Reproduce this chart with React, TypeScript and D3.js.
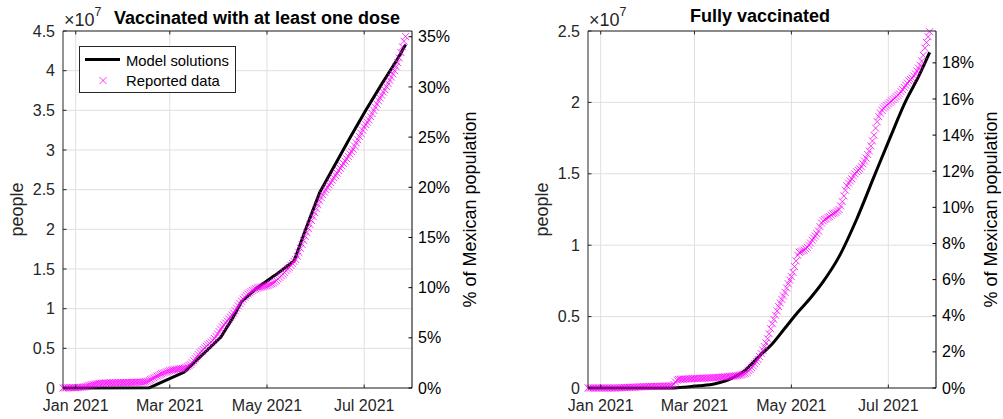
import React from "react";
import * as d3 from "d3";

// Time window shown on both panels (UTC dates)
const START = Date.UTC(2020, 11, 24);
const END = Date.UTC(2021, 6, 31);
const DAY_MS = 86400000;
const POPULATION = 126.5e6;

const dateTicks = ["2021-01-01", "2021-03-01", "2021-05-01", "2021-07-01"];
const dateTickLabels = ["Jan 2021", "Mar 2021", "May 2021", "Jul 2021"];

// Left axis ticks in units of 10^7 people
const oneDoseTicks = [0, 0.5, 1, 1.5, 2, 2.5, 3, 3.5, 4, 4.5];
const oneDosePctTicks = [0, 5, 10, 15, 20, 25, 30, 35];
const fullTicks = [0, 0.5, 1, 1.5, 2, 2.5];
const fullPctTicks = [0, 2, 4, 6, 8, 10, 12, 14, 16, 18];

// Reported daily totals (millions of people), one value per day from 24 Dec 2020
const reportedOneDose = [
  0.003, 0.01, 0.02, 0.025, 0.03, 0.035, 0.04, 0.043, 0.045, 0.048,
  0.06, 0.08, 0.1, 0.13, 0.17, 0.22, 0.28, 0.33, 0.39, 0.44,
  0.48, 0.52, 0.55, 0.57, 0.59, 0.61, 0.62, 0.63, 0.64, 0.645,
  0.65, 0.655, 0.66, 0.665, 0.67, 0.675, 0.68, 0.68, 0.685, 0.69,
  0.69, 0.695, 0.7, 0.705, 0.71, 0.715, 0.72, 0.725, 0.73, 0.735,
  0.74, 0.75, 0.78, 0.86, 0.95, 1.05, 1.16, 1.27, 1.38, 1.5,
  1.6, 1.7, 1.8, 1.88, 1.95, 2.02, 2.1, 2.18, 2.24, 2.28,
  2.31, 2.34, 2.37, 2.4, 2.43, 2.46, 2.5, 2.58, 2.7, 2.85,
  3.0, 3.2, 3.45, 3.7, 3.95, 4.2, 4.45, 4.65, 4.85, 5.05,
  5.25, 5.45, 5.62, 5.8, 6.0, 6.25, 6.5, 6.8, 7.1, 7.4,
  7.7, 7.95, 8.2, 8.45, 8.7, 8.95, 9.2, 9.45, 9.75, 10.05,
  10.35, 10.65, 10.95, 11.2, 11.45, 11.65, 11.85, 12.0, 12.15, 12.3,
  12.4, 12.5, 12.6, 12.65, 12.7, 12.75, 12.8, 12.85, 12.9, 12.95,
  13.05, 13.15, 13.25, 13.4, 13.55, 13.75, 13.95, 14.15, 14.35, 14.55,
  14.8, 15.0, 15.2, 15.45, 15.7, 15.95, 16.2, 16.6, 17.1, 17.6,
  18.1, 18.6, 19.1, 19.6, 20.1, 20.6, 21.1, 21.6, 22.1, 22.6,
  23.1, 23.6, 24.0, 24.35, 24.7, 25.0, 25.3, 25.6, 25.9, 26.2,
  26.5, 26.8, 27.1, 27.4, 27.7, 28.0, 28.3, 28.6, 28.9, 29.2,
  29.5, 29.8, 30.1, 30.5, 30.9, 31.3, 31.7, 32.1, 32.5, 32.9,
  33.2, 33.5, 33.8, 34.2, 34.6, 35.0, 35.4, 35.8, 36.2, 36.55,
  36.9, 37.3, 37.6, 38.0, 38.4, 38.8, 39.2, 39.6, 40.0, 40.5,
  41.0, 41.6, 42.3, 43.0, 43.7, 44.3,
];

const reportedFull = [
  0, 0, 0, 0, 0, 0, 0, 0, 0, 0,
  0, 0, 0, 0, 0, 0, 0, 0, 0.005, 0.01,
  0.015, 0.02, 0.025, 0.03, 0.035, 0.04, 0.045, 0.05, 0.055, 0.06,
  0.065, 0.07, 0.075, 0.08, 0.085, 0.09, 0.095, 0.1, 0.1, 0.105,
  0.105, 0.11, 0.11, 0.115, 0.115, 0.12, 0.12, 0.125, 0.125, 0.13,
  0.13, 0.135, 0.14, 0.15, 0.25, 0.42, 0.55, 0.6, 0.61, 0.62,
  0.62, 0.63, 0.63, 0.64, 0.64, 0.65, 0.65, 0.66, 0.66, 0.67,
  0.67, 0.68, 0.68, 0.69, 0.69, 0.7, 0.7, 0.71, 0.72, 0.72,
  0.73, 0.74, 0.74, 0.75, 0.76, 0.77, 0.78, 0.79, 0.8, 0.81,
  0.82, 0.83, 0.84, 0.85, 0.87, 0.89, 0.91, 0.94, 0.98, 1.03,
  1.1, 1.2, 1.3, 1.42, 1.55, 1.7, 1.85, 2.0, 2.2, 2.42,
  2.65, 2.9, 3.15, 3.45, 3.8, 4.15, 4.5, 4.8, 5.1, 5.4,
  5.7, 5.95, 6.2, 6.45, 6.7, 7.0, 7.3, 7.55, 7.8, 8.1,
  8.5, 8.9, 9.3, 9.5, 9.55, 9.6, 9.65, 9.75, 9.85, 10.0,
  10.15, 10.35, 10.5, 10.65, 10.8, 11.0, 11.3, 11.55, 11.7, 11.8,
  11.85, 11.95, 12.0, 12.1, 12.2, 12.25, 12.3, 12.4, 12.5, 12.75,
  13.05, 13.45, 13.85, 14.15, 14.35, 14.5, 14.65, 14.85, 15.0, 15.15,
  15.25, 15.35, 15.5, 15.7, 15.9, 16.1, 16.35, 16.6, 16.95, 17.3,
  17.7, 18.2, 18.65, 19.0, 19.25, 19.45, 19.6, 19.7, 19.8, 19.9,
  20.0, 20.1, 20.2, 20.3, 20.4, 20.5, 20.6, 20.75, 20.9, 21.05,
  21.2, 21.35, 21.5, 21.6, 21.7, 21.85, 22.0, 22.2, 22.4, 22.6,
  22.9, 23.3, 23.8, 24.2, 24.6, 24.95,
];

// Model solutions: days since 24 Dec 2020 and cumulative people (millions)
const modelOneDoseDay = [0, 54, 76, 99, 107, 112, 121, 133, 145, 153, 161, 170, 180, 190, 200, 210, 215];
const modelOneDose = [0, 0.02, 2.0, 6.4, 9.0, 10.9, 12.5, 14.2, 16.0, 20.4, 24.6, 27.9, 31.5, 35.0, 38.3, 41.5, 43.3];
const modelFullDay = [0, 54, 60, 70, 80, 90, 99, 107, 116, 124, 132, 140, 148, 158, 169, 180, 190, 200, 208, 215];
const modelFull = [0, 0, 0.05, 0.15, 0.3, 0.65, 1.25, 2.15, 3.1, 4.2, 5.3, 6.3, 7.45, 9.2, 11.8, 14.8, 17.5, 20.1, 21.8, 23.5];

const FONT = "'Liberation Sans', Arial, Helvetica, sans-serif";
const AXIS = "#262626";
const GRID = "#dfdfdf";
const MAGENTA = "#ff00ff";
const TICK = 3.5;
const MARK_R = 3.5;

type PanelProps = {
  left: number;
  right: number;
  top: number;
  bottom: number;
  yTicks: number[];
  pctTicks: number[];
  title: string;
  titleX: number;
  titleY: number;
  reported: number[];
  modelDay: number[];
  model: number[];
  smooth: boolean;
  peopleX: number;
  pctLabelX: number;
  legend: boolean;
};

function Cross({ cx, cy, r }: { cx: number; cy: number; r: number }) {
  return (
    <path
      d={`M${cx - r},${cy - r}L${cx + r},${cy + r}M${cx - r},${cy + r}L${cx + r},${cy - r}`}
      stroke={MAGENTA}
      strokeWidth={0.8}
      fill="none"
    />
  );
}

function Panel(p: PanelProps) {
  const yMaxM = p.yTicks[p.yTicks.length - 1] * 10; // millions
  const x = d3.scaleUtc().domain([START, END]).range([p.left, p.right]);
  const y = d3.scaleLinear().domain([0, yMaxM]).range([p.bottom, p.top]);
  const yPct = d3
    .scaleLinear()
    .domain([0, (yMaxM * 1e6 * 100) / POPULATION])
    .range([p.bottom, p.top]);

  const line = d3
    .line<number>()
    .x((_, i) => x(START + p.modelDay[i] * DAY_MS))
    .y((v) => y(v))
    .curve(p.smooth ? d3.curveMonotoneX : d3.curveLinear);

  const xt = dateTicks.map((s) => Date.parse(s + "T00:00:00Z"));
  const midY = (p.top + p.bottom) / 2;

  return (
    <g fontFamily={FONT}>
      {/* grid */}
      {xt.map((t, i) => (
        <line key={"gx" + i} x1={x(t)} x2={x(t)} y1={p.top} y2={p.bottom} stroke={GRID} strokeWidth={1} />
      ))}
      {p.yTicks.map((t, i) => (
        <line key={"gy" + i} x1={p.left} x2={p.right} y1={y(t * 10)} y2={y(t * 10)} stroke={GRID} strokeWidth={1} />
      ))}

      {/* model curve */}
      <path d={line(p.model) || ""} fill="none" stroke="#000" strokeWidth={3} strokeLinejoin="round" />

      {/* reported data markers */}
      {p.reported.map((v, i) => (
        <Cross key={"m" + i} cx={x(START + i * DAY_MS)} cy={y(v)} r={MARK_R} />
      ))}

      {/* box and ticks */}
      <line x1={p.left} x2={p.right} y1={p.top} y2={p.top} stroke={AXIS} strokeWidth={1} />
      <line x1={p.left} x2={p.right} y1={p.bottom} y2={p.bottom} stroke={AXIS} strokeWidth={1} />
      <line x1={p.left} x2={p.left} y1={p.top} y2={p.bottom} stroke={AXIS} strokeWidth={1} />
      <line x1={p.right} x2={p.right} y1={p.top} y2={p.bottom} stroke="#000" strokeWidth={1} />

      {xt.map((t, i) => (
        <g key={"xt" + i}>
          <line x1={x(t)} x2={x(t)} y1={p.bottom} y2={p.bottom - TICK} stroke={AXIS} />
          <line x1={x(t)} x2={x(t)} y1={p.top} y2={p.top + TICK} stroke={AXIS} />
          <text x={x(t)} y={p.bottom + 23} fontSize={16} textAnchor="middle" fill={AXIS}>
            {dateTickLabels[i]}
          </text>
        </g>
      ))}

      {p.yTicks.map((t, i) => (
        <g key={"yt" + i}>
          <line x1={p.left} x2={p.left + TICK} y1={y(t * 10)} y2={y(t * 10)} stroke={AXIS} />
          <text x={p.left - 8} y={y(t * 10)} dy="0.35em" fontSize={16} textAnchor="end" fill={AXIS}>
            {String(t)}
          </text>
        </g>
      ))}

      {p.pctTicks.map((t, i) => (
        <g key={"pt" + i}>
          <line x1={p.right} x2={p.right - TICK} y1={yPct(t)} y2={yPct(t)} stroke="#000" />
          <text x={p.right + 6} y={yPct(t)} dy="0.35em" fontSize={16} textAnchor="start" fill="#000">
            {t + "%"}
          </text>
        </g>
      ))}

      {/* exponent label */}
      <text x={p.left + 1} y={26} fontSize={18} fill={AXIS}>
        ×10
        <tspan fontSize={12.5} dy={-10}>
          7
        </tspan>
      </text>

      {/* title */}
      <text x={p.titleX} y={p.titleY} fontSize={18} fontWeight="bold" textAnchor="middle" fill="#000">
        {p.title}
      </text>

      {/* axis labels */}
      <text
        transform={`translate(${p.peopleX},${midY}) rotate(-90)`}
        fontSize={18}
        textAnchor="middle"
        fill={AXIS}
      >
        people
      </text>
      <text
        transform={`translate(${p.pctLabelX},${midY}) rotate(-90)`}
        fontSize={18}
        textAnchor="middle"
        fill="#000"
      >
        % of Mexican population
      </text>

      {p.legend && (
        <g>
          <rect x={79.5} y={46.5} width={156} height={46} fill="#fff" stroke={AXIS} strokeWidth={1} />
          <line x1={85} x2={120} y1={59.5} y2={59.5} stroke="#000" strokeWidth={3} />
          <text x={126} y={65.5} fontSize={14.8} fill="#000">
            Model solutions
          </text>
          <Cross cx={103} cy={80.5} r={MARK_R} />
          <text x={126} y={85.5} fontSize={14.8} fill="#000">
            Reported data
          </text>
        </g>
      )}
    </g>
  );
}

export default function App() {
  return (
    <svg
      width={1003}
      height={419}
      style={{ position: "absolute", left: 0, top: 0, background: "#fff" }}
    >
      <rect width={1003} height={419} fill="#fff" />
      <Panel
        left={63}
        right={412}
        top={31}
        bottom={388}
        yTicks={oneDoseTicks}
        pctTicks={oneDosePctTicks}
        title="Vaccinated with at least one dose"
        titleX={257}
        titleY={24}
        reported={reportedOneDose}
        modelDay={modelOneDoseDay}
        model={modelOneDose}
        smooth={false}
        peopleX={23}
        pctLabelX={476}
        legend={true}
      />
      <Panel
        left={588}
        right={936}
        top={31}
        bottom={388}
        yTicks={fullTicks}
        pctTicks={fullPctTicks}
        title="Fully vaccinated"
        titleX={760}
        titleY={22}
        reported={reportedFull}
        modelDay={modelFullDay}
        model={modelFull}
        smooth={true}
        peopleX={548}
        pctLabelX={997}
        legend={false}
      />
    </svg>
  );
}
